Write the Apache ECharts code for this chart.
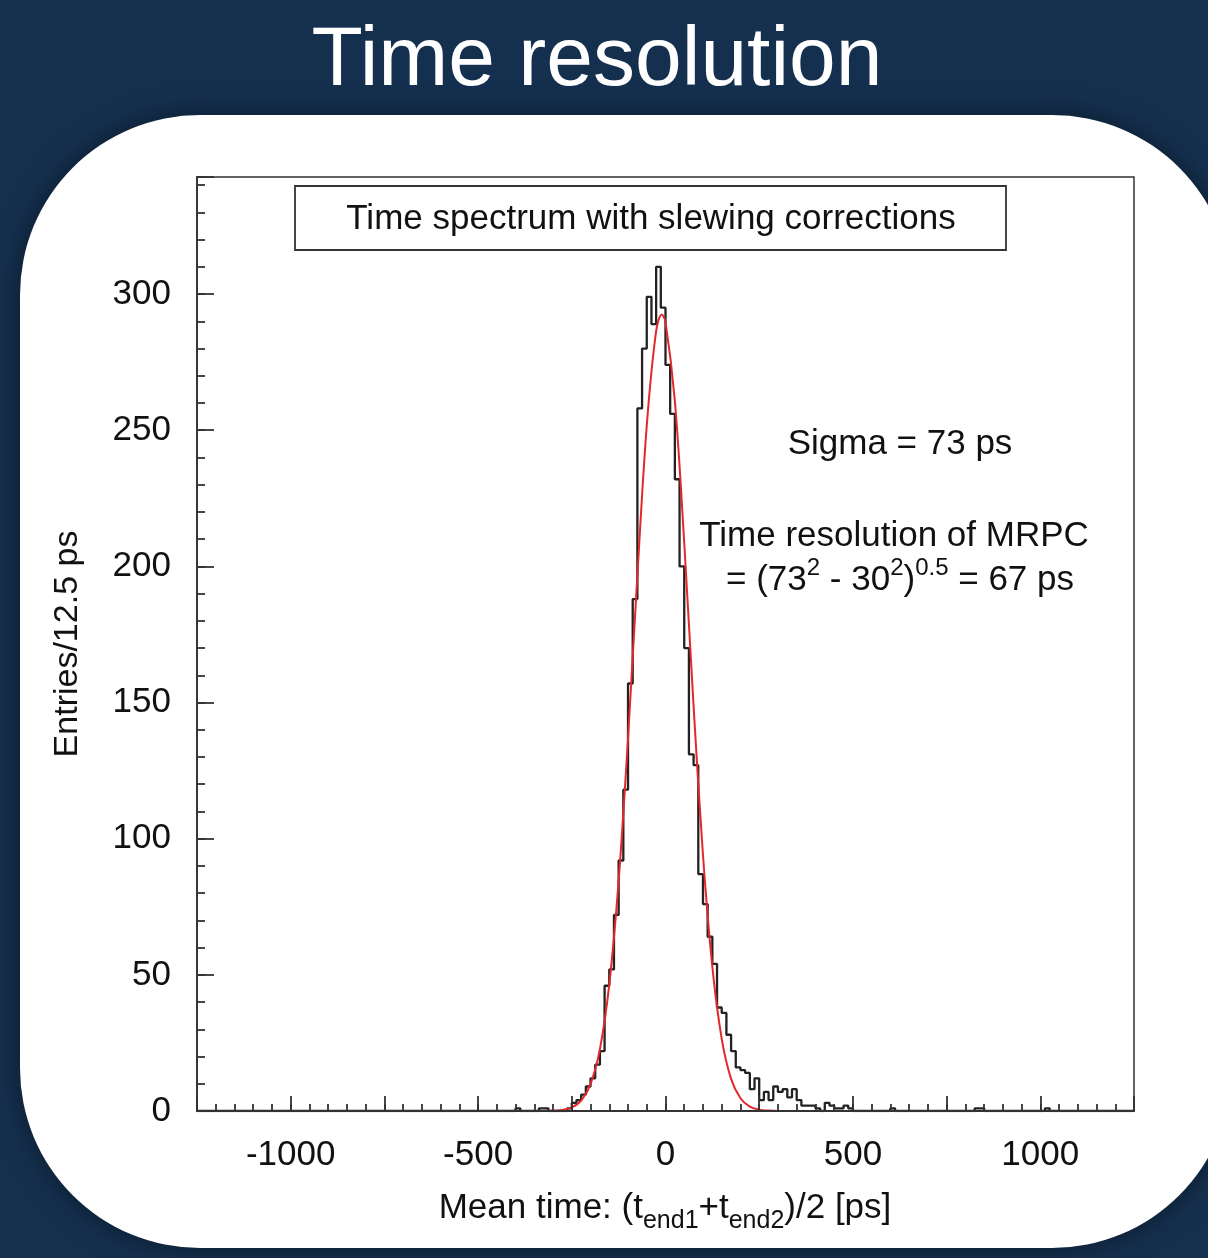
<!DOCTYPE html>
<html><head><meta charset="utf-8">
<script src="https://cdn.jsdelivr.net/npm/echarts@6/dist/echarts.min.js"></script>
<style>html,body{margin:0;padding:0;background:#15304f;} #c{width:1208px;height:1258px;}</style>
</head><body><div id="c"></div>
<script>
// ---- data ----
const binWidth = 12.5;            // ps per bin
const firstEdge = -400;           // left edge of first listed bin
const counts = [
  1,0,0,0,0,1,1,0,0,0,0,1,            // -400 .. -262.5
  3,4,6,9,12,17,22,46,52,72,92,118,   // -250 .. -112.5
  157,188,258,280,299,289,310,295,    // -100 .. -12.5
  274,256,232,200,170,131,127,87,     // 0 .. 87.5
  76,64,54,38,36,28,22,16,            // 100 .. 187.5
  15,14,8,12,4,7,4,9,7,8,5,8,         // 200 .. 337.5
  4,2,2,2,1,0,3,2,1,1,2,1             // 350 .. 487.5
];
const tailEdges  = [600, 825, 837.5, 1012.5];
const tailCounts = [1, 1, 1, 1];
const fitX = [-1250,-350,-300,-275,-250,-225,-200,-175,-150,-125,-100,-75,-50,-25,-10,0,25,50,75,100,125,150,175,200,225,250,275,300,350,1250];
const fitY = [0,0,0.1,0.4,1.3,3.8,9.9,22.7,46.5,84.6,136.8,196.8,251.7,286.4,292.5,289.8,260.7,208.6,148.5,94.0,52.9,26.5,11.8,4.7,1.6,0.5,0.15,0,0,0];
const xRange = [-1250, 1250];
const yMax = 343;
const xTickLabels = [-1000, -500, 0, 500, 1000];
const yTickLabels = [0, 50, 100, 150, 200, 250, 300];

// ---- build step histogram from bins ----
const nBins = Math.round((xRange[1] - xRange[0]) / binWidth);
const vals = new Array(nBins).fill(0);
counts.forEach((c, i) => { vals[Math.round((firstEdge - xRange[0]) / binWidth) + i] = c; });
tailEdges.forEach((e, i) => { vals[Math.round((e - xRange[0]) / binWidth)] = tailCounts[i]; });
const hist = [];
for (let i = 0; i < nBins; i++) hist.push([xRange[0] + i * binWidth, vals[i]]);
hist.push([xRange[1], vals[nBins - 1]]);
const fit = fitX.map((x, i) => [x, fitY[i]]);

const FONT = '"Liberation Sans", Arial, Helvetica, sans-serif';
const chart = echarts.init(document.getElementById('c'), null, {renderer: 'canvas'});
const axisCol = '#333';

chart.setOption({
  backgroundColor: '#15304f',
  animation: false,
  grid: {left: 197, right: 74, top: 177, bottom: 147, show: true, borderColor: axisCol, borderWidth: 1.5, backgroundColor: 'transparent'},
  xAxis: [
    {type: 'value', min: xRange[0], max: xRange[1], interval: 250, position: 'bottom', z: 6,
     axisLine: {show: true, onZero: false, lineStyle: {color: axisCol, width: 1.8}},
     axisTick: {show: true, inside: true, length: 15, lineStyle: {color: axisCol, width: 1.8}},
     axisLabel: {show: true, margin: 27, color: '#111', fontSize: 35, fontFamily: FONT,
       formatter: v => xTickLabels.includes(v) ? String(v) : ''},
     splitLine: {show: false}},
    {type: 'value', min: xRange[0], max: xRange[1], interval: 50, position: 'bottom', z: 6,
     axisLine: {show: false, onZero: false}, axisTick: {show: true, inside: true, length: 7, lineStyle: {color: axisCol, width: 1.8}},
     axisLabel: {show: false}, splitLine: {show: false}}
  ],
  yAxis: [
    {type: 'value', min: 0, max: yMax, interval: 50, position: 'left', z: 6,
     axisLine: {show: true, onZero: false, lineStyle: {color: axisCol, width: 1.8}},
     axisTick: {show: true, inside: true, length: 17, lineStyle: {color: axisCol, width: 1.8}},
     axisLabel: {show: true, margin: 26, color: '#111', fontSize: 35, fontFamily: FONT,
       formatter: v => yTickLabels.includes(v) ? String(v) : ''},
     splitLine: {show: false}},
    {type: 'value', min: 0, max: yMax, interval: 10, position: 'left', z: 6,
     axisLine: {show: false, onZero: false}, axisTick: {show: true, inside: true, length: 8, lineStyle: {color: axisCol, width: 1.8}},
     axisLabel: {show: false}, splitLine: {show: false}}
  ],
  series: [
    {type: 'line', name: 'hist', data: hist, step: 'end', symbol: 'none', xAxisIndex: 0, yAxisIndex: 0,
     lineStyle: {color: '#222', width: 2.3}, z: 3},
    {type: 'line', name: 'fit', data: fit, smooth: 0.35, symbol: 'none', xAxisIndex: 0, yAxisIndex: 0,
     lineStyle: {color: '#e3282c', width: 2}, z: 4}
  ],
  graphic: [
    {type: 'rect', z: -10, shape: {x: 20, y: 115, width: 1212, height: 1133, r: 180},
     style: {fill: '#fff', shadowBlur: 30, shadowColor: 'rgba(0,0,0,0.45)'}},
    {type: 'text', z: 100, x: 597, y: 62,
     style: {text: 'Time resolution', fill: '#fff', font: '84px ' + FONT, align: 'center', verticalAlign: 'middle'}},
    {type: 'rect', z: 100, shape: {x: 295, y: 186, width: 711, height: 64},
     style: {fill: '#fff', stroke: axisCol, lineWidth: 1.8}},
    {type: 'text', z: 101, x: 651, y: 219,
     style: {text: 'Time spectrum with slewing corrections', fill: '#111', font: '35px ' + FONT, align: 'center', verticalAlign: 'middle'}},
    {type: 'text', z: 101, x: 900, y: 444,
     style: {text: 'Sigma = 73 ps', fill: '#111', font: '35px ' + FONT, align: 'center', verticalAlign: 'middle'}},
    {type: 'text', z: 101, x: 894, y: 536,
     style: {text: 'Time resolution of MRPC', fill: '#111', font: '35px ' + FONT, align: 'center', verticalAlign: 'middle'}},
    {type: 'text', z: 101, x: 900, y: 580,
     style: {text: '{n|= (73}{p|2}{n| - 30}{p|2}{n|)}{p|0.5}{n| = 67 ps}', fill: '#111', align: 'center', verticalAlign: 'middle',
       rich: {n: {fontSize: 35, fontFamily: FONT, lineHeight: 48, fill: '#111'},
              p: {fontSize: 24, fontFamily: FONT, lineHeight: 28, verticalAlign: 'top', fill: '#111'}}}},
    {type: 'text', z: 101, x: 665, y: 1208,
     style: {text: '{n|Mean time: (t}{s|end1}{n|+t}{s|end2}{n|)/2 [ps]}', fill: '#111', align: 'center', verticalAlign: 'middle',
       rich: {n: {fontSize: 35, fontFamily: FONT, lineHeight: 52, fill: '#111'},
              s: {fontSize: 25, fontFamily: FONT, lineHeight: 24, verticalAlign: 'bottom', fill: '#111'}}}},
    {type: 'text', z: 101, x: 68, y: 644, rotation: Math.PI / 2,
     style: {text: 'Entries/12.5 ps', fill: '#111', font: '34px ' + FONT, align: 'center', verticalAlign: 'middle'}}
  ]
});
</script></body></html>
